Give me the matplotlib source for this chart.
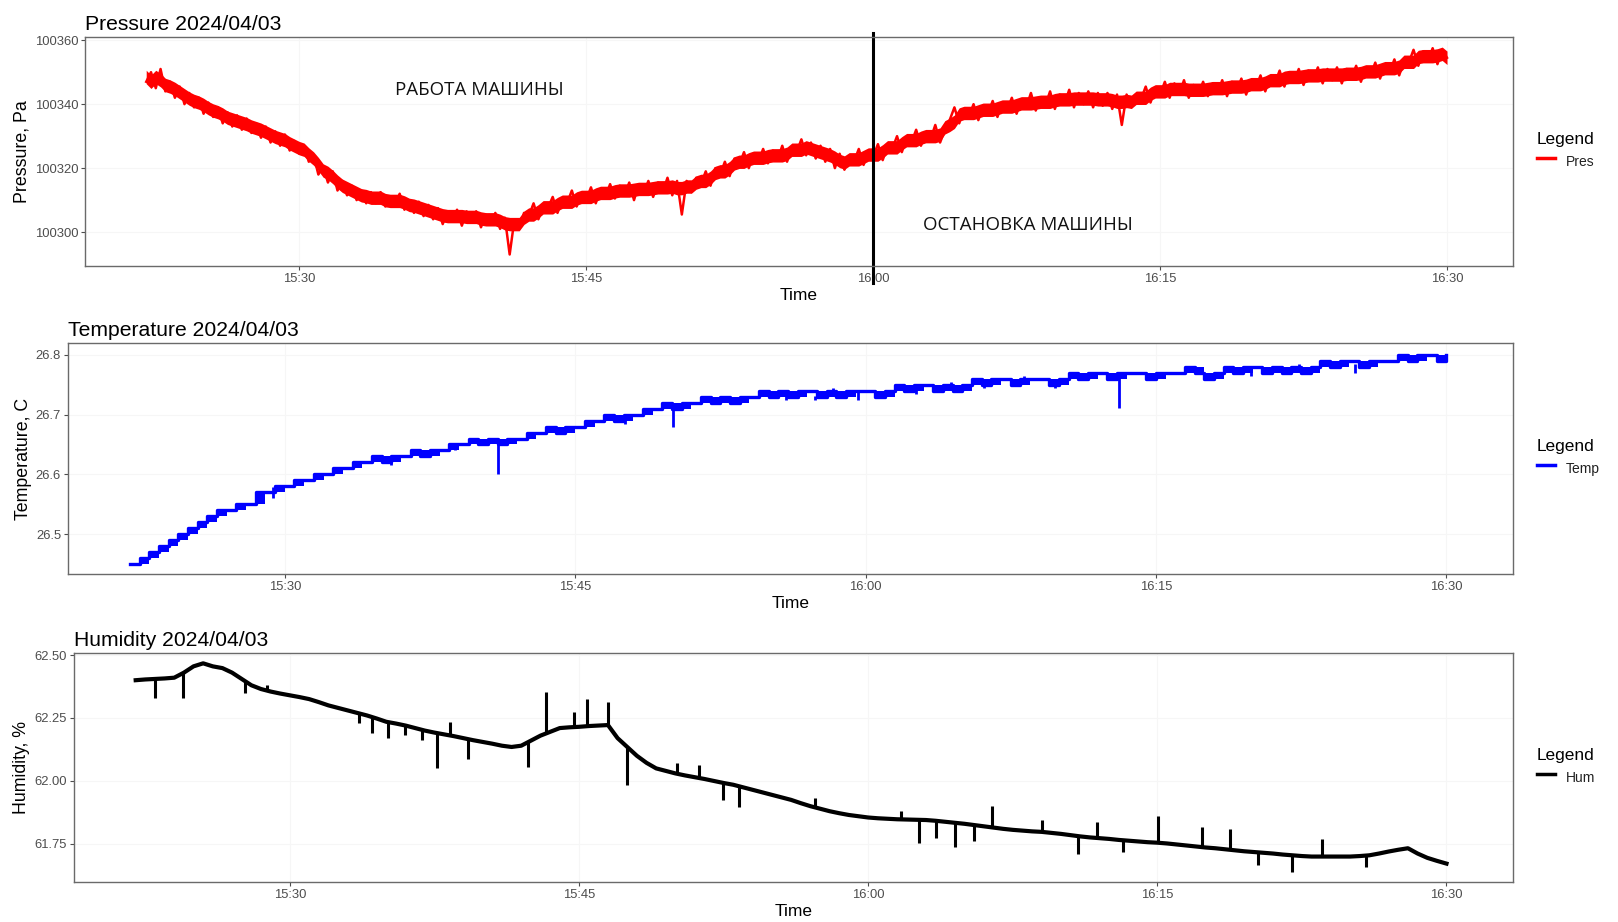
import numpy as np
import pandas as pd
import matplotlib
matplotlib.use("Agg")
import matplotlib.pyplot as plt
import matplotlib.dates as mdates
from matplotlib.lines import Line2D

# ─── Datos ────────────────────────────────────────────────────────
DAY = "2024-04-03"
START = "15:22:00"

# presión: desvío respecto de 100300 Pa, una muestra cada 15 s (15:22 → 16:30)
PRES_BASE = 100300
PRES_OFFSET = [
    47, 50, 45, 51,  44, 47, 42, 45.5,  40, 43.5, 39, 42,  37, 40.5, 36, 39,
    34, 37.5, 33, 36.5,  32, 35.5, 31, 34,  29.5, 33, 28, 31.5,  27, 30.5, 25.5, 28.5,
    24.5, 27, 22, 24,  18, 20.5, 15.5, 19,  13, 16, 11.5, 14.5,  10, 13, 9, 12.5,
    9, 12.5, 8, 11,  8.5, 12, 7, 10,  6, 9.5, 5, 8.5,  4, 7.5, 2.5, 6.5,
    3.5, 7, 2, 6.5,  3, 6.5, 1.5, 5.5,  2.5, 6, 1, 4.5,  -7, 4, 1, 6,
    5, 9, 4, 8,  7.5, 11, 6, 10,  9, 13, 8, 12,  10, 14, 9, 13.5,
    11, 15, 10.5, 14.5,  11.5, 15.5, 10, 15,  12, 16, 11, 15.5,  12.5, 17, 11.5, 16,
    5.5, 16, 12.5, 17,  15, 19, 14.5, 20,  18, 22, 17.5, 23,  21, 25, 20, 24.5,
    22, 26, 21.5, 25.5,  22.5, 27, 22, 26.5,  25, 29, 24, 28,  23, 27, 22, 26,
    20, 24.5, 19.5, 23.5,  22, 26, 21, 25,  23.5, 27.5, 22.5, 27,  26, 30, 25, 29.5,
    28, 32, 27, 31,  29, 33.5, 28, 32,  35, 39, 34, 38.5,  36, 40, 35, 39.5,
    37, 41, 36, 40.5,  38, 42, 37, 41.5,  39, 43.5, 38, 42,  39.5, 44, 38.5, 43,
    40, 44.5, 39, 43.5,  40, 44, 39, 43.5,  39.5, 43.5, 38.5, 43,  33.5, 43, 39, 42.5,
    41.5, 45.5, 40.5, 45,  43, 47, 42, 46.5,  43, 47.5, 42, 46,  43, 47, 42.5, 46.5,
    43.5, 47.5, 42.5, 47,  44, 48, 43, 47.5,  45, 49, 44, 48.5,  46.5, 50.5, 45.5, 50,
    47, 51, 46, 50.5,  47.5, 51.5, 46.5, 51,  47.5, 51.5, 46.5, 51,  48, 52, 47, 51.5,
    49, 53, 48, 52.5,  50, 54, 49, 53.5,  53, 57, 52, 56.5,  53.5, 57.5, 52.5, 57,
    54.5,
]

# temperatura, una muestra cada 30 s
TEMP = [
    26.45, 26.46, 26.47, 26.48, 26.49, 26.50, 26.51, 26.52, 26.53, 26.54,
    26.54, 26.55, 26.55, 26.57, 26.57, 26.58, 26.58, 26.59, 26.59, 26.60,
    26.60, 26.61, 26.61, 26.62, 26.62, 26.63, 26.62, 26.63, 26.63, 26.64,
    26.63, 26.64, 26.64, 26.65, 26.65, 26.66, 26.65, 26.66, 26.65, 26.66,
    26.66, 26.67, 26.67, 26.68, 26.67, 26.68, 26.68, 26.69, 26.69, 26.70,
    26.69, 26.70, 26.70, 26.71, 26.71, 26.72, 26.71, 26.72, 26.72, 26.73,
    26.72, 26.73, 26.72, 26.73, 26.73, 26.74, 26.73, 26.74, 26.73, 26.74,
    26.74, 26.73, 26.74, 26.73, 26.74, 26.74, 26.74, 26.73, 26.74, 26.75,
    26.74, 26.75, 26.75, 26.74, 26.75, 26.74, 26.75, 26.76, 26.75, 26.76,
    26.76, 26.75, 26.76, 26.76, 26.76, 26.75, 26.76, 26.77, 26.76, 26.77,
    26.77, 26.76, 26.77, 26.77, 26.77, 26.76, 26.77, 26.77, 26.77, 26.78,
    26.77, 26.76, 26.77, 26.78, 26.77, 26.78, 26.78, 26.77, 26.78, 26.77,
    26.78, 26.77, 26.78, 26.79, 26.78, 26.79, 26.79, 26.78, 26.79, 26.79,
    26.79, 26.80, 26.79, 26.80, 26.80, 26.79, 26.80,
]
TEMP_SPIKE_MIN = [26.8, 29.4, 35.5, 38.8, 41.0, 47.6, 50.05, 53.2, 55.9, 57.4, 58.3,
                  59.6, 60.9, 62.6, 64.4, 66.1, 68.2, 69.8, 73.1, 77.6, 79.9, 82.4, 85.3]
TEMP_SPIKE_VAL = [26.535, 26.56, 26.615, 26.64, 26.60, 26.685, 26.68, 26.72, 26.725, 26.725, 26.745,
                  26.725, 26.73, 26.735, 26.755, 26.745, 26.765, 26.745, 26.711, 26.76, 26.765, 26.785, 26.77]

# humedad, una muestra cada 30 s
HUM = [
    62.400, 62.403, 62.405, 62.407, 62.410, 62.430, 62.455, 62.467, 62.455, 62.448,
    62.430, 62.405, 62.380, 62.365, 62.355, 62.347, 62.340, 62.333, 62.325, 62.313,
    62.300, 62.290, 62.280, 62.270, 62.260, 62.248, 62.235, 62.228, 62.220, 62.210,
    62.200, 62.192, 62.185, 62.178, 62.170, 62.162, 62.155, 62.148, 62.140, 62.135,
    62.140, 62.160, 62.180, 62.195, 62.210, 62.213, 62.215, 62.218, 62.220, 62.222,
    62.170, 62.135, 62.100, 62.072, 62.050, 62.040, 62.030, 62.022, 62.015, 62.008,
    62.000, 61.992, 61.985, 61.975, 61.965, 61.955, 61.945, 61.935, 61.925, 61.912,
    61.900, 61.890, 61.880, 61.872, 61.865, 61.860, 61.855, 61.852, 61.850, 61.848,
    61.847, 61.846, 61.845, 61.842, 61.838, 61.834, 61.830, 61.825, 61.820, 61.815,
    61.810, 61.806, 61.803, 61.800, 61.798, 61.794, 61.790, 61.785, 61.780, 61.776,
    61.773, 61.770, 61.766, 61.763, 61.760, 61.757, 61.755, 61.752, 61.748, 61.744,
    61.740, 61.736, 61.733, 61.729, 61.725, 61.721, 61.718, 61.715, 61.712, 61.708,
    61.705, 61.702, 61.700, 61.700, 61.700, 61.700, 61.700, 61.702, 61.705, 61.712,
    61.720, 61.727, 61.733, 61.712, 61.695, 61.683, 61.672,
]

# picos aislados de humedad (minutos después de las 15:00, valor)
HUM_SPIKE_MIN = [23.0, 24.48, 27.67, 28.83, 33.56, 34.26, 35.07, 35.99, 36.87, 37.65,
                 38.3, 39.23, 42.35, 43.27, 44.73, 45.42, 46.5, 47.48, 50.09, 51.24,
                 52.45, 53.28, 57.24, 61.71, 62.66, 63.52, 64.52, 65.51, 66.4, 69.0,
                 70.89, 71.88, 73.21, 75.05, 77.3, 78.79, 80.24, 81.99, 83.56, 85.82]
HUM_SPIKE_VAL = [62.328, 62.328, 62.348, 62.381, 62.229, 62.189, 62.169, 62.183, 62.163, 62.05,
                 62.235, 62.086, 62.057, 62.354, 62.275, 62.324, 62.315, 61.984, 62.07, 62.063,
                 61.925, 61.898, 61.931, 61.882, 61.755, 61.773, 61.737, 61.763, 61.90, 61.845,
                 61.71, 61.836, 61.72, 61.862, 61.819, 61.81, 61.667, 61.64, 61.769, 61.66]

# ─── Tiempos ──────────────────────────────────────────────────────
t0 = pd.Timestamp(f"{DAY} {START}")
t15 = pd.Timestamp(f"{DAY} 15:00")
t_pres = pd.date_range(t0, periods=len(PRES_OFFSET), freq="15s")
t_temp = pd.date_range(t0, periods=len(TEMP), freq="30s")
t_hum = pd.date_range(t0, periods=len(HUM), freq="30s")
pres = pd.Series(PRES_BASE + np.array(PRES_OFFSET, dtype=float))
temp = pd.Series(TEMP)

# núcleo de la banda de ruido: mediana móvil de 1 minuto
pres_mid = pres.rolling(4, center=True, min_periods=1).median()
temp_lo = temp.rolling(2, min_periods=1).min()
temp_hi = temp.rolling(2, min_periods=1).max()

min_axis = 22 + np.arange(len(TEMP)) * 0.5
temp_base = np.interp(TEMP_SPIKE_MIN, min_axis, TEMP)
hum_base = np.interp(HUM_SPIKE_MIN, min_axis, HUM)
t_tspike = t15 + pd.to_timedelta(TEMP_SPIKE_MIN, unit="min")
t_hspike = t15 + pd.to_timedelta(HUM_SPIKE_MIN, unit="min")

x_lo = pd.Timestamp(f"{DAY} 15:18:48")
x_hi = pd.Timestamp(f"{DAY} 16:33:27")

plt.rcParams["font.family"] = ["Liberation Sans", "DejaVu Sans"]

W, H = 1618, 922
fig = plt.figure(figsize=(W / 100, H / 100), dpi=100)


def make_ax(left, top, right, bottom):
    return fig.add_axes([left / W, 1 - bottom / H, (right - left) / W, (bottom - top) / H])


def style(ax, title, ylabel, yticks, ylabels, ylim):
    ax.set_xlim(x_lo, x_hi)
    ax.set_ylim(*ylim)
    ax.set_yticks(yticks)
    ax.set_yticklabels(ylabels)
    ax.xaxis.set_major_locator(mdates.MinuteLocator(byminute=[0, 15, 30, 45]))
    ax.xaxis.set_major_formatter(mdates.DateFormatter("%H:%M"))
    ax.tick_params(labelsize=9.4, labelcolor="#4d4d4d", color="#4d4d4d", length=3, width=0.8, pad=2)
    ax.grid(True, color="#f6f6f6", lw=0.8)
    ax.set_axisbelow(True)
    for s in ax.spines.values():
        s.set_color("#6a6a6a")
        s.set_linewidth(1.0)
    ax.set_title(title, loc="left", fontsize=15.2, pad=5)
    ax.set_xlabel("Time", fontsize=12.5, labelpad=2)
    ax.set_ylabel(ylabel, fontsize=12.8, labelpad=3)


def legend(ax, color, label):
    h = [Line2D([], [], color=color, lw=2.5)]
    leg = ax.legend(h, [label], title="Legend", loc="center left", bbox_to_anchor=(1.008, 0.5),
                    frameon=False, alignment="left", handlelength=1.3, handletextpad=0.8,
                    handleheight=1.9, fontsize=10, title_fontsize=12.4, labelspacing=0.3)
    for t in leg.get_texts():
        t.set_color("#222222")


# ─── Presión ──────────────────────────────────────────────────────
ax1 = make_ax(85, 37, 1513, 266)
ax1.fill_between(t_pres, pres_mid - 2.1, pres_mid + 2.1, color="#ff0000", lw=0)
ax1.plot(t_pres, pres, color="#ff0000", lw=1.8)
style(ax1, "Pressure 2024/04/03", "Pressure, Pa",
      [100300, 100320, 100340, 100360], ["100300", "100320", "100340", "100360"],
      (100289.4, 100361))
ax1.axvline(pd.Timestamp(f"{DAY} 16:00"), ymin=-0.074, ymax=1.017, color="black", lw=2.2, clip_on=False)
ax1.text(pd.Timestamp(f"{DAY} 15:39:24"), 100344.4, "РАБОТА МАШИНЫ", fontsize=13.5,
         family=["Open Sans", "DejaVu Sans"], ha="center", va="center", color="#111111")
ax1.text(pd.Timestamp(f"{DAY} 16:08:06"), 100302.2, "ОСТАНОВКА МАШИНЫ", fontsize=13.5,
         family=["Open Sans", "DejaVu Sans"], ha="center", va="center", color="#111111")
legend(ax1, "#ff0000", "Pres")

# ─── Temperatura ──────────────────────────────────────────────────
ax2 = make_ax(68, 343, 1513, 574)
ax2.fill_between(t_temp, temp_lo, temp_hi, step="post", color="#0000ff", lw=0)
ax2.plot(t_temp, temp, color="#0000ff", lw=2.4, drawstyle="steps-post")
ax2.vlines(t_tspike, temp_base, TEMP_SPIKE_VAL, color="#0000ff", lw=2.0)
style(ax2, "Temperature 2024/04/03", "Temperature, C",
      [26.5, 26.6, 26.7, 26.8], ["26.5", "26.6", "26.7", "26.8"], (26.433, 26.82))
legend(ax2, "#0000ff", "Temp")

# ─── Humedad ──────────────────────────────────────────────────────
ax3 = make_ax(74, 653, 1513, 882)
ax3.plot(t_hum, HUM, color="black", lw=3.0)
ax3.vlines(t_hspike, hum_base, HUM_SPIKE_VAL, color="black", lw=2.2)
style(ax3, "Humidity 2024/04/03", "Humidity, %",
      [61.75, 62.0, 62.25, 62.5], ["61.75", "62.00", "62.25", "62.50"], (61.599, 62.508))
legend(ax3, "black", "Hum")

fig.savefig("out.png", dpi=100, facecolor="white")
